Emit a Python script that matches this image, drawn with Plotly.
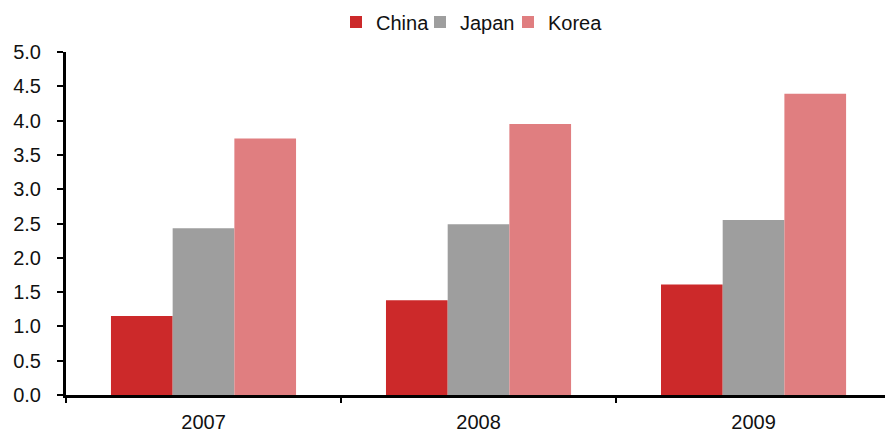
import plotly.graph_objects as go

years = ["2007", "2008", "2009"]
china = [1.15, 1.38, 1.61]
japan = [2.43, 2.49, 2.55]
korea = [3.74, 3.95, 4.39]

series = [
    ("China", china, "#CC292A"),
    ("Japan", japan, "#9E9E9E"),
    ("Korea", korea, "#E07E80"),
]

y_ticks = [i * 0.5 for i in range(11)]

# each legend entry gets its own legend box so the entries sit close together
legend_ids = ["legend", "legend2", "legend3"]
legend_left_px = [336, 420, 508]

W, H = 885, 435
font = dict(family="Liberation Sans, Arial, sans-serif", size=20, color="#111111")

fig = go.Figure()
for (name, vals, color), lid in zip(series, legend_ids):
    fig.add_trace(go.Bar(x=years, y=vals, name=name, legend=lid,
                         marker=dict(color=color, line=dict(width=0))))

legend_layout = {}
for lid, left in zip(legend_ids, legend_left_px):
    legend_layout[lid] = dict(
        orientation="h",
        x=left / W,
        xanchor="left",
        xref="container",
        y=1 - 22 / H,
        yref="container",
        yanchor="middle",
        font=font,
        itemwidth=30,
        bgcolor="rgba(0,0,0,0)",
        borderwidth=0,
    )

fig.update_layout(
    width=W,
    height=H,
    margin=dict(l=66, r=0, t=52, b=40, autoexpand=False),
    paper_bgcolor="white",
    plot_bgcolor="white",
    font=font,
    barmode="group",
    bargap=0.327,
    bargroupgap=0,
    showlegend=True,
    xaxis=dict(
        type="category",
        range=[-0.5, 2.478],
        showline=True,
        linecolor="black",
        linewidth=3,
        ticks="outside",
        tickson="boundaries",
        ticklen=5,
        tickwidth=2,
        tickcolor="black",
        showgrid=False,
        zeroline=False,
        tickfont=dict(size=20),
        ticklabelstandoff=7,
    ),
    yaxis=dict(
        range=[0, 5],
        tickvals=y_ticks,
        ticktext=[f"{v:.1f}" for v in y_ticks],
        showline=True,
        linecolor="black",
        linewidth=3,
        ticks="outside",
        ticklen=6,
        tickwidth=2,
        tickcolor="black",
        showgrid=False,
        zeroline=False,
        ticklabelstandoff=12,
    ),
    **legend_layout,
)

fig.write_html("out.html")
